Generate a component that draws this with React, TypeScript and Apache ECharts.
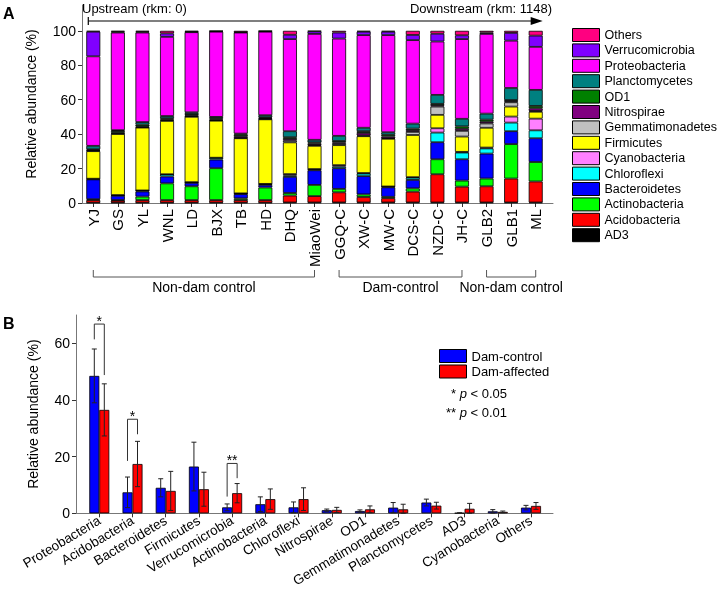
import React, { useEffect, useRef } from 'react';
import * as echarts from 'echarts';

const FONT = "'Liberation Sans', Arial, Helvetica, sans-serif";

// ---------- Panel A: relative abundance of phyla per site (%) ----------
const sites = ['YJ', 'GS', 'YL', 'WNL', 'LD', 'BJX', 'TB', 'HD', 'DHQ', 'MiaoWei', 'GGQ-C', 'XW-C', 'MW-C', 'DCS-C', 'NZD-C', 'JH-C', 'GLB2', 'GLB1', 'ML'];

// stacking order: bottom -> top
const phyla = ['AD3', 'Acidobacteria', 'Actinobacteria', 'Bacteroidetes', 'Chloroflexi', 'Cyanobacteria', 'Firmicutes', 'Gemmatimonadetes', 'Nitrospirae', 'OD1', 'Planctomycetes', 'Proteobacteria', 'Verrucomicrobia', 'Others'];
const phylumColors = ['#000000', '#ff0000', '#00ff00', '#0000ff', '#00ffff', '#ff80ff', '#ffff00', '#c0c0c0', '#800080', '#008000', '#008080', '#ff00ff', '#8000ff', '#ff0080'];

const AD3 = [0.2, 0.2, 0.2, 0.2, 0.2, 0.2, 0.2, 0.2, 0.3, 0.3, 0.3, 0.3, 0.3, 0.3, 0.3, 0.3, 0.3, 0.3, 0.3];
const Acidobacteria = [1.5, 1.2, 1.5, 1.5, 1.5, 1.5, 1.5, 1.5, 4, 3.7, 5.9, 3.2, 2.5, 6.3, 16.4, 9.2, 9.4, 13.9, 12.2];
const Actinobacteria = [0.5, 0.3, 2, 9.7, 8, 18.5, 1, 7.3, 1.5, 6.5, 2, 1.5, 0.8, 1.9, 8.7, 3.5, 4.5, 20, 11.3];
const Bacteroidetes = [11.5, 2.5, 3, 4, 2, 5, 2.5, 1.5, 9.4, 8.5, 12, 10.6, 5.5, 4.9, 9.9, 12.4, 14.5, 7.5, 13.8];
const Chloroflexi = [0.3, 0.3, 0.5, 1.2, 0.3, 1, 0.3, 0.5, 0.8, 0.5, 1, 1.5, 0.4, 1.3, 5.6, 3.9, 3, 5, 4.6];
const Cyanobacteria = [0.1, 0.1, 0.1, 0.1, 0.1, 0.1, 0.1, 0.1, 0.8, 0.2, 0.8, 0.3, 0.1, 0.3, 2.5, 0.4, 0.5, 3.5, 6.8];
const Firmicutes = [16, 35.5, 36.5, 31, 38, 21.5, 32, 37.5, 18.4, 13.5, 11.6, 21.4, 27.7, 24.5, 7.8, 8.9, 11.5, 5.8, 4];
const Gemmatimonadetes = [0.3, 0.2, 0.2, 0.3, 0.2, 0.2, 0.2, 0.2, 1, 0.5, 0.8, 0.4, 0.3, 1.8, 4.8, 3.3, 2.5, 2.5, 0.5];
const Nitrospirae = [0.3, 0.5, 0.5, 0.5, 0.6, 0.5, 1, 0.5, 1, 0.8, 0.8, 1.5, 1, 1, 0.8, 1.2, 1, 0.6, 1.5];
const OD1 = [0.5, 1, 1, 0.7, 0.8, 0.7, 1, 0.5, 1, 0.7, 0.8, 1, 1, 0.9, 0.8, 1.4, 1.2, 0.7, 1.4];
const Planctomycetes = [2, 0.5, 1.5, 1.3, 1, 0.8, 0.5, 1.2, 3.5, 1.5, 3, 2, 1.5, 2.9, 5.2, 4.4, 3.5, 7, 9.3];
const Proteobacteria = [52, 56.7, 52, 46, 46.5, 49.5, 58.7, 48.5, 53.5, 61.5, 56.5, 53.8, 56.4, 48.5, 31, 46.3, 46.3, 27.5, 25];
const Verrucomicrobia = [14.3, 0.5, 0.5, 2, 0.3, 0.3, 0.2, 0.3, 2.5, 1.5, 3.5, 2, 2, 3, 4.5, 2.2, 0.8, 4.5, 6.5];
const Others = [0.5, 0.5, 0.5, 1.5, 0.5, 0.2, 0.8, 0.2, 2.3, 0.3, 1, 0.5, 0.5, 2.4, 1.7, 2.6, 1.0, 1.2, 2.8];

const phylumValues = [AD3, Acidobacteria, Actinobacteria, Bacteroidetes, Chloroflexi, Cyanobacteria, Firmicutes, Gemmatimonadetes, Nitrospirae, OD1, Planctomycetes, Proteobacteria, Verrucomicrobia, Others];

const yTicksA = [0, 20, 40, 60, 80, 100];

const siteGroups = [
  { label: 'Non-dam control', first: 'YJ', last: 'MiaoWei' },
  { label: 'Dam-control', first: 'GGQ-C', last: 'JH-C' },
  { label: 'Non-dam control', first: 'GLB2', last: 'ML' },
];

// ---------- Panel B: mean ± SD per phylum ----------
const taxa = ['Proteobacteria', 'Acidobacteria', 'Bacteroidetes', 'Firmicutes', 'Verrucomicrobia', 'Actinobacteria', 'Chloroflexi', 'Nitrospirae', 'OD1', 'Gemmatimonadetes', 'Planctomycetes', 'AD3', 'Cyanobacteria', 'Others'];
const damControlMean = [48.5, 7.4, 9.0, 16.5, 2.1, 3.2, 2.1, 1.1, 0.8, 2.0, 3.8, 0.1, 0.7, 2.0];
const damControlSD = [9.5, 5.4, 3.2, 8.6, 1.2, 2.6, 1.9, 0.4, 0.4, 1.8, 1.2, 0.1, 0.6, 0.8];
const damAffectedMean = [36.5, 17.4, 7.9, 8.5, 7.1, 5.0, 5.0, 1.2, 1.4, 1.4, 2.7, 1.6, 0.5, 2.6];
const damAffectedSD = [9.2, 8.0, 6.9, 6.0, 3.4, 3.6, 4.0, 0.9, 1.2, 1.8, 1.2, 1.9, 0.3, 1.2];

const yTicksB = [0, 20, 40, 60];

const sigTaxa = ['Proteobacteria', 'Acidobacteria', 'Verrucomicrobia'];
const sigLeft = [61.4, 18.5, 5.9];
const sigRight = [48.8, 27.9, 12.4];
const sigTop = [66.8, 33.2, 17.6];
const sigLabels = ['*', '*', '**'];

const BAR_B = 10;
const CAP = 2.5;

export default function App() {
  const ref = useRef<HTMLDivElement>(null);

  useEffect(() => {
    const chart = echarts.init(ref.current!, null, { renderer: 'svg' });

    const axisGrey = '#777';
    const frameX = (gridIndex: number) => ({
      gridIndex,
      type: 'value',
      min: 0,
      max: 1,
      axisLine: { show: true, onZero: false, lineStyle: { color: axisGrey, width: 1 } },
      axisTick: { show: false },
      axisLabel: { show: false },
      splitLine: { show: false },
    });

    const frameY = (gridIndex: number, max: number, ticks: number[], nameGap: number) => ({
      gridIndex,
      type: 'value',
      min: 0,
      max,
      interval: 20,
      axisLine: { show: true, onZero: false, lineStyle: { color: axisGrey, width: 1 } },
      axisTick: { show: true, length: 4, customValues: ticks, lineStyle: { color: '#333' } },
      axisLabel: {
        fontSize: 14,
        color: '#000',
        margin: 6,
        fontFamily: FONT,
        customValues: ticks,
        formatter: (v: number) => (ticks.indexOf(v) >= 0 ? String(v) : ''),
      },
      splitLine: { show: false },
      name: 'Relative abundance (%)',
      nameLocation: 'middle',
      nameGap,
      nameTextStyle: { fontSize: 14, color: '#000', fontFamily: FONT },
    });

    const hiddenY = (gridIndex: number, max: number) => ({
      gridIndex,
      type: 'value',
      min: 0,
      max,
      show: false,
      splitLine: { show: false },
    });

    const stackSeries = phyla.map((name, i) => ({
      name,
      type: 'bar',
      stack: 'total',
      xAxisIndex: 1,
      yAxisIndex: 1,
      barWidth: 14,
      data: phylumValues[i],
      itemStyle: { color: phylumColors[i], borderColor: '#000', borderWidth: 0.8 },
    }));

    const errData: number[][] = [];
    taxa.forEach((_, i) => {
      errData.push([i, damControlMean[i], damControlSD[i], -1]);
      errData.push([i, damAffectedMean[i], damAffectedSD[i], 1]);
    });

    const sigData = sigTaxa.map((t, i) => [taxa.indexOf(t), sigLeft[i], sigRight[i], sigTop[i]]);

    const gridBase = { outerBoundsMode: 'none', containLabel: false };

    const option: any = {
      animation: false,
      textStyle: { fontFamily: FONT },
      grid: [
        { ...gridBase, left: 82, top: 5, width: 471, height: 198 },
        { ...gridBase, left: 81, top: 5, width: 467, height: 198 },
        { ...gridBase, left: 76, top: 315, width: 477, height: 198.3 },
        { ...gridBase, left: 82.7, top: 315, width: 464.9, height: 198.3 },
      ],
      xAxis: [
        frameX(0),
        {
          gridIndex: 1,
          type: 'category',
          data: sites,
          axisLine: { show: false },
          axisTick: { show: true, alignWithLabel: true, length: 4, lineStyle: { color: '#333' } },
          axisLabel: { rotate: 90, fontSize: 15, color: '#000', margin: 6, fontFamily: FONT, interval: 0 },
        },
        frameX(2),
        {
          gridIndex: 3,
          type: 'category',
          data: taxa,
          axisLine: { show: false },
          axisTick: { show: true, alignWithLabel: true, length: 4, lineStyle: { color: '#333' } },
          axisLabel: { rotate: 31, fontSize: 13.5, color: '#000', margin: 6, fontFamily: FONT, interval: 0 },
        },
      ],
      yAxis: [
        frameY(0, 115, yTicksA, 44),
        hiddenY(1, 115),
        frameY(2, 70, yTicksB, 36),
        hiddenY(3, 70),
      ],
      legend: [
        {
          data: phyla.slice().reverse(),
          orient: 'vertical',
          left: 572,
          top: 28,
          padding: 0,
          itemWidth: 27,
          itemHeight: 13,
          itemGap: 1.4,
          icon: 'rect',
          selectedMode: false,
          itemStyle: { borderColor: '#000', borderWidth: 1 },
          textStyle: { fontSize: 12.5, lineHeight: 13, color: '#000', fontFamily: FONT },
        },
        {
          data: ['Dam-control', 'Dam-affected'],
          orient: 'vertical',
          left: 439,
          top: 349,
          padding: 0,
          itemWidth: 27,
          itemHeight: 13,
          itemGap: 1.5,
          icon: 'rect',
          selectedMode: false,
          itemStyle: { borderColor: '#000', borderWidth: 1 },
          textStyle: { fontSize: 13, lineHeight: 13, color: '#000', fontFamily: FONT },
        },
      ],
      series: [
        ...stackSeries,
        {
          name: 'Dam-control',
          type: 'bar',
          xAxisIndex: 3,
          yAxisIndex: 3,
          barWidth: BAR_B,
          barGap: '0%',
          data: damControlMean,
          itemStyle: { color: '#0000ff', borderColor: '#000', borderWidth: 0.8 },
        },
        {
          name: 'Dam-affected',
          type: 'bar',
          xAxisIndex: 3,
          yAxisIndex: 3,
          barWidth: BAR_B,
          barGap: '0%',
          data: damAffectedMean,
          itemStyle: { color: '#ff0000', borderColor: '#000', borderWidth: 0.8 },
        },
        {
          type: 'custom',
          name: 'errors',
          xAxisIndex: 3,
          yAxisIndex: 3,
          silent: true,
          z: 5,
          data: errData,
          encode: { x: 0, y: 1 },
          renderItem: (params: any, api: any) => {
            const cat = api.value(0);
            const mean = api.value(1);
            const sd = api.value(2);
            const side = api.value(3);
            const top = api.coord([cat, mean + sd]);
            const bot = api.coord([cat, Math.max(mean - sd, 0)]);
            const x = top[0] + (side * BAR_B) / 2;
            const st = { stroke: '#222', lineWidth: 1 };
            return {
              type: 'group',
              children: [
                { type: 'line', shape: { x1: x, y1: top[1], x2: x, y2: bot[1] }, style: st },
                { type: 'line', shape: { x1: x - CAP, y1: top[1], x2: x + CAP, y2: top[1] }, style: st },
                { type: 'line', shape: { x1: x - CAP, y1: bot[1], x2: x + CAP, y2: bot[1] }, style: st },
              ],
            };
          },
        },
        {
          type: 'custom',
          name: 'significance',
          xAxisIndex: 3,
          yAxisIndex: 3,
          silent: true,
          z: 5,
          data: sigData,
          encode: { x: 0, y: 3 },
          renderItem: (params: any, api: any) => {
            const cat = api.value(0);
            const l = api.coord([cat, api.value(1)]);
            const r = api.coord([cat, api.value(2)]);
            const t = api.coord([cat, api.value(3)]);
            const xl = t[0] - BAR_B / 2;
            const xr = t[0] + BAR_B / 2;
            return {
              type: 'group',
              children: [
                {
                  type: 'polyline',
                  shape: { points: [[xl, l[1]], [xl, t[1]], [xr, t[1]], [xr, r[1]]] },
                  style: { stroke: '#333', lineWidth: 1, fill: null },
                },
                {
                  type: 'text',
                  style: {
                    text: sigLabels[params.dataIndex],
                    x: t[0],
                    y: t[1] - 3,
                    align: 'center',
                    verticalAlign: 'middle',
                    font: `14px ${FONT}`,
                    fill: '#000',
                  },
                },
              ],
            };
          },
        },
      ],
    };

    chart.setOption(option);

    // Annotations that follow the category positions
    const graphics: any[] = [];
    const baseA = chart.convertToPixel({ yAxisIndex: 1 }, 0) as number;
    siteGroups.forEach((g) => {
      const x1 = chart.convertToPixel({ xAxisIndex: 1 }, g.first) as number;
      const x2 = chart.convertToPixel({ xAxisIndex: 1 }, g.last) as number;
      const yb = baseA + 74;
      graphics.push({
        type: 'polyline',
        shape: { points: [[x1, yb - 7], [x1, yb], [x2, yb], [x2, yb - 7]] },
        style: { stroke: '#555', lineWidth: 1, fill: null },
        silent: true,
      });
      graphics.push({
        type: 'text',
        x: (x1 + x2) / 2,
        y: yb + 10,
        style: { text: g.label, font: `14px ${FONT}`, fill: '#000', align: 'center', verticalAlign: 'middle' },
        silent: true,
      });
    });

    // Upstream/downstream arrow
    const arrowY = 21;
    const xStart = (chart.convertToPixel({ xAxisIndex: 1 }, sites[0]) as number) - 5;
    const xEnd = (chart.convertToPixel({ xAxisIndex: 1 }, sites[sites.length - 1]) as number) + 7;
    graphics.push(
      { type: 'line', shape: { x1: xStart, y1: arrowY, x2: xEnd - 10, y2: arrowY }, style: { stroke: '#000', lineWidth: 1.2 }, silent: true },
      { type: 'line', shape: { x1: xStart, y1: arrowY - 4, x2: xStart, y2: arrowY + 4 }, style: { stroke: '#000', lineWidth: 1.2 }, silent: true },
      { type: 'polygon', shape: { points: [[xEnd - 12, arrowY - 4], [xEnd, arrowY], [xEnd - 12, arrowY + 4]] }, style: { fill: '#000' }, silent: true },
      { type: 'text', x: 82, y: 8, style: { text: 'Upstream (rkm: 0)', font: `13px ${FONT}`, fill: '#000', align: 'left', verticalAlign: 'middle' }, silent: true },
      { type: 'text', x: 552, y: 8, style: { text: 'Downstream (rkm: 1148)', font: `13px ${FONT}`, fill: '#000', align: 'right', verticalAlign: 'middle' }, silent: true },
      { type: 'text', x: 3, y: 13, style: { text: 'A', font: `bold 16px ${FONT}`, fill: '#000', align: 'left', verticalAlign: 'middle' }, silent: true },
      { type: 'text', x: 3, y: 323, style: { text: 'B', font: `bold 16px ${FONT}`, fill: '#000', align: 'left', verticalAlign: 'middle' }, silent: true },
      {
        type: 'text',
        x: 507,
        y: 393,
        style: {
          text: '{n|* }{i|p}{n| < 0.05}',
          align: 'right',
          verticalAlign: 'middle',
          rich: {
            n: { fontSize: 13, fontFamily: FONT, fill: '#000' },
            i: { fontSize: 13, fontFamily: FONT, fontStyle: 'italic', fill: '#000' },
          },
        },
        silent: true,
      },
      {
        type: 'text',
        x: 507,
        y: 412,
        style: {
          text: '{n|** }{i|p}{n| < 0.01}',
          align: 'right',
          verticalAlign: 'middle',
          rich: {
            n: { fontSize: 13, fontFamily: FONT, fill: '#000' },
            i: { fontSize: 13, fontFamily: FONT, fontStyle: 'italic', fill: '#000' },
          },
        },
        silent: true,
      }
    );

    chart.setOption({ graphic: graphics });

    return () => chart.dispose();
  }, []);

  return <div ref={ref} style={{ position: 'fixed', left: 0, top: 0, width: 721, height: 593 }} />;
}
